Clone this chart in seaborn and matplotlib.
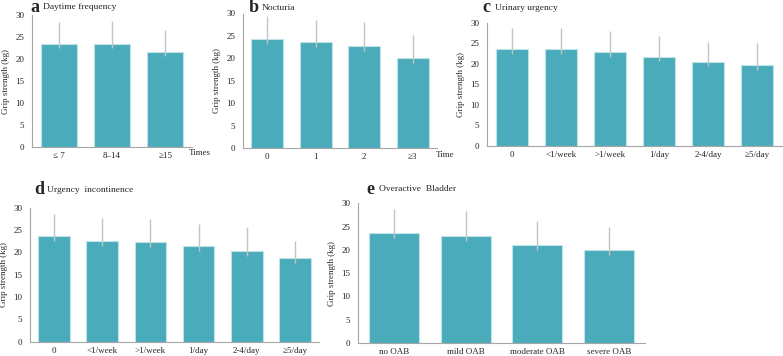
import pandas as pd
import matplotlib.pyplot as plt
import seaborn as sns

sns.set_style('white')
plt.rcParams['font.family'] = ['Liberation Serif', 'DejaVu Serif']

# data (mean, mean+SD)
a_cats = ['≤ 7', '8–14', '≥15']
a_mean = [23.5, 23.5, 21.7]
a_sd = [5.0, 5.2, 4.9]

b_cats = ['0', '1', '2', '≥3']
b_mean = [24.3, 23.6, 22.7, 20.1]
b_sd = [5.1, 5.0, 5.3, 5.0]

c_cats = ['0', '<1/week', '>1/week', '1/day', '2-4/day', '≥5/day']
c_mean = [23.6, 23.6, 22.8, 21.7, 20.5, 19.7]
c_sd = [5.0, 5.1, 5.2, 5.1, 4.8, 5.4]

d_cats = ['0', '<1/week', '>1/week', '1/day', '2-4/day', '≥5/day']
d_mean = [23.6, 22.6, 22.3, 21.4, 20.3, 18.8]
d_sd = [5.0, 5.2, 5.2, 4.9, 5.4, 3.8]

e_cats = ['no OAB', 'mild OAB', 'moderate OAB', 'severe OAB']
e_mean = [23.7, 23.0, 21.0, 20.0]
e_sd = [5.1, 5.3, 5.2, 5.0]

W, H = 783, 356
fig = plt.figure(figsize=(W / 100, H / 100), dpi=100)

bar_color = '#4aabba'
spine_color = '#a6a6a6'


def px_axes(x0, y0, x1, y1):
    # pixel box (top-left origin) -> figure axes
    return fig.add_axes([x0 / W, 1 - y1 / H, (x1 - x0) / W, (y1 - y0) / H])


def panel(box, cats, mean, sd, letter, title, title_xy, width=0.67, unit=None, unit_xy=None):
    ax = px_axes(*box)
    df = pd.DataFrame({'cat': cats, 'mean': mean})
    sns.barplot(data=df, x='cat', y='mean', color=bar_color, width=width,
                edgecolor='#bfe3e8', linewidth=0.8, saturation=1, ax=ax, zorder=2)
    ax.errorbar(range(len(cats)), mean, yerr=[[1.1] * len(cats), sd], fmt='none',
                ecolor='#c4c4c4', elinewidth=1.0, capsize=0, zorder=3)
    ax.set_ylim(0, 30)
    ax.set_xlim(-0.5, len(cats) - 0.5)
    ax.set_yticks([0, 5, 10, 15, 20, 25, 30])
    ax.tick_params(axis='y', length=2.5, width=0.6, color=spine_color, labelsize=6.5, pad=3)
    ax.tick_params(axis='x', length=0, labelsize=6.5, pad=3.5)
    ax.set_xlabel('')
    ax.set_ylabel('Grip strength (kg)', fontsize=6.5, labelpad=4)
    for s in ['top', 'right']:
        ax.spines[s].set_visible(False)
    for s in ['left', 'bottom']:
        ax.spines[s].set_color(spine_color)
        ax.spines[s].set_linewidth(0.8)
    fig.text(title_xy[0] / W, 1 - title_xy[1] / H, letter, fontsize=13, fontweight='bold',
             va='center', ha='left')
    fig.text((title_xy[0] + 13) / W, 1 - title_xy[1] / H, title, fontsize=6.8,
             va='center', ha='left')
    if unit:
        fig.text(unit_xy[0] / W, 1 - unit_xy[1] / H, unit, fontsize=6.5, va='center', ha='left')
    return ax


panel((32, 15, 192, 147), a_cats, a_mean, a_sd, 'a', 'Daytime frequency', (30, 7),
      unit='Times', unit_xy=(189, 153))
panel((243, 13.5, 437, 148), b_cats, b_mean, b_sd, 'b', 'Nocturia', (249, 7.5),
      width=0.66, unit='Time', unit_xy=(436, 155))
panel((487, 22.7, 782, 146), c_cats, c_mean, c_sd, 'c', 'Urinary urgency', (482, 8),
      width=0.65)
panel((30, 207.7, 319, 341.7), d_cats, d_mean, d_sd, 'd', 'Urgency  incontinence', (34, 190),
      width=0.66)
panel((358, 203.3, 645, 343), e_cats, e_mean, e_sd, 'e', 'Overactive  Bladder', (366, 189),
      width=0.7)

plt.savefig('out.png', dpi=100)
